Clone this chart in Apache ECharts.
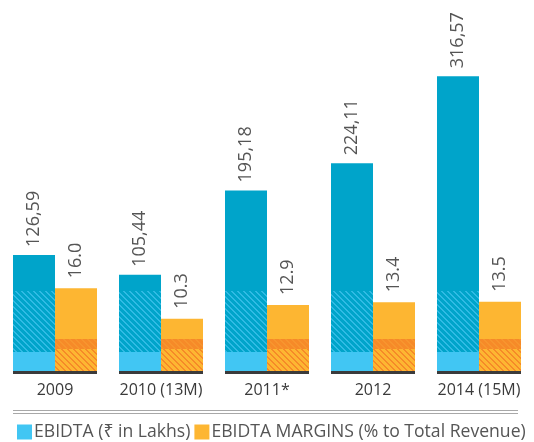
<!DOCTYPE html>
<html lang="en">
  <head>
    <meta charset="UTF-8" />
    <title>EBIDTA</title>
    <script src="https://cdnjs.cloudflare.com/ajax/libs/echarts/6.0.0/echarts.min.js"></script>
    <style>
      html, body { margin: 0; padding: 0; background: #fff; }
      #main { width: 534px; height: 442px; }
    </style>
  </head>
  <body>
    <div id="main"></div>
    <script>
      // data
      var categories = ["2009", "2010 (13M)", "2011*", "2012", "2014 (15M)"];
      var ebidta = [126.59, 105.44, 195.18, 224.11, 316.57];
      var margins = [16.0, 10.3, 12.9, 13.4, 13.5];

      var font = '"Open Sans", "Noto Sans", "DejaVu Sans", sans-serif';

      // striped fill, rows in page pixels (pattern is anchored at canvas origin)
      function makePattern(bands) {
        var P = 6, H = 442;
        var c = document.createElement("canvas");
        c.width = P;
        c.height = H;
        var ctx = c.getContext("2d");
        bands.forEach(function (b) {
          for (var y = b.from; y < b.to; y++) {
            for (var x = 0; x < P; x++) {
              var s = b.stripe && (((x - y) % P) + P) % P < 2;
              ctx.fillStyle = s ? b.stripe : b.base;
              ctx.fillRect(x, y, 1, 1);
            }
          }
        });
        return c;
      }

      var bluePat = makePattern([
        { from: 0, to: 291, base: "#00a4ca" },
        { from: 291, to: 352, base: "#00a4ca", stripe: "#30bbe4" },
        { from: 352, to: 371, base: "#41c6f3" },
        { from: 371, to: 374, base: "#3b3b3b" },
        { from: 374, to: 442, base: "#41c6f3" },
      ]);
      var orangePat = makePattern([
        { from: 0, to: 339, base: "#fdb632" },
        { from: 339, to: 349, base: "#f68a28", stripe: "#f7952e" },
        { from: 349, to: 371, base: "#fdb632", stripe: "#f68a28" },
        { from: 371, to: 374, base: "#3b3b3b" },
        { from: 374, to: 442, base: "#fdb632" },
      ]);

      var myChart = echarts.init(document.getElementById("main"));
      var option = {
        animation: false,
        textStyle: { fontFamily: font },
        grid: { left: 2, right: 2, top: 10, bottom: 68 },
        legend: {
          left: 12,
          top: 418,
          itemWidth: 15,
          itemHeight: 15,
          itemGap: 4,
          icon: "rect",
          selectedMode: false,
          textStyle: { fontFamily: font, fontSize: 17.6, color: "#555", padding: [0, 0, 0, -3] },
          data: [
            { name: "EBIDTA (₹ in Lakhs)", itemStyle: { color: "#41c6f3" } },
            { name: "EBIDTA MARGINS (% to Total Revenue)", itemStyle: { color: "#fdb632" } },
          ],
        },
        xAxis: {
          type: "category",
          data: categories,
          axisLine: { show: false },
          axisTick: { show: false },
          axisLabel: { interval: 0, margin: 8, fontSize: 16, color: "#3a3a3a", fontFamily: font },
        },
        yAxis: [
          { type: "value", min: 0, max: 387, show: false },
          { type: "value", min: 0, max: 68, show: false },
        ],
        graphic: [
          { type: "line", shape: { x1: 13, y1: 410.5, x2: 518, y2: 410.5 }, style: { stroke: "#a8a8a8", lineWidth: 1.2 } },
          { type: "line", shape: { x1: 13, y1: 413.5, x2: 518, y2: 413.5 }, style: { stroke: "#a8a8a8", lineWidth: 1.2 } },
        ],
        series: [
          {
            type: "bar",
            name: "EBIDTA (₹ in Lakhs)",
            data: ebidta,
            yAxisIndex: 0,
            barWidth: 42,
            barGap: "0%",
            itemStyle: { color: { image: bluePat, repeat: "repeat" } },
            emphasis: { disabled: true },
            label: {
              show: true,
              position: "top",
              rotate: 90,
              align: "left",
              verticalAlign: "middle",
              distance: 8,
              fontSize: 18,
              color: "#555",
              fontFamily: font,
              formatter: function (p) {
                return p.value.toFixed(2).replace(".", ",");
              },
            },
          },
          {
            type: "bar",
            name: "EBIDTA MARGINS (% to Total Revenue)",
            data: margins,
            yAxisIndex: 1,
            barWidth: 42,
            barGap: "0%",
            itemStyle: { color: { image: orangePat, repeat: "repeat" } },
            emphasis: { disabled: true },
            label: {
              show: true,
              position: "top",
              rotate: 90,
              align: "left",
              verticalAlign: "middle",
              distance: 10,
              fontSize: 18,
              color: "#555",
              fontFamily: font,
              formatter: function (p) {
                return p.value.toFixed(1);
              },
            },
          },
        ],
      };
      myChart.setOption(option);
    </script>
  </body>
</html>
